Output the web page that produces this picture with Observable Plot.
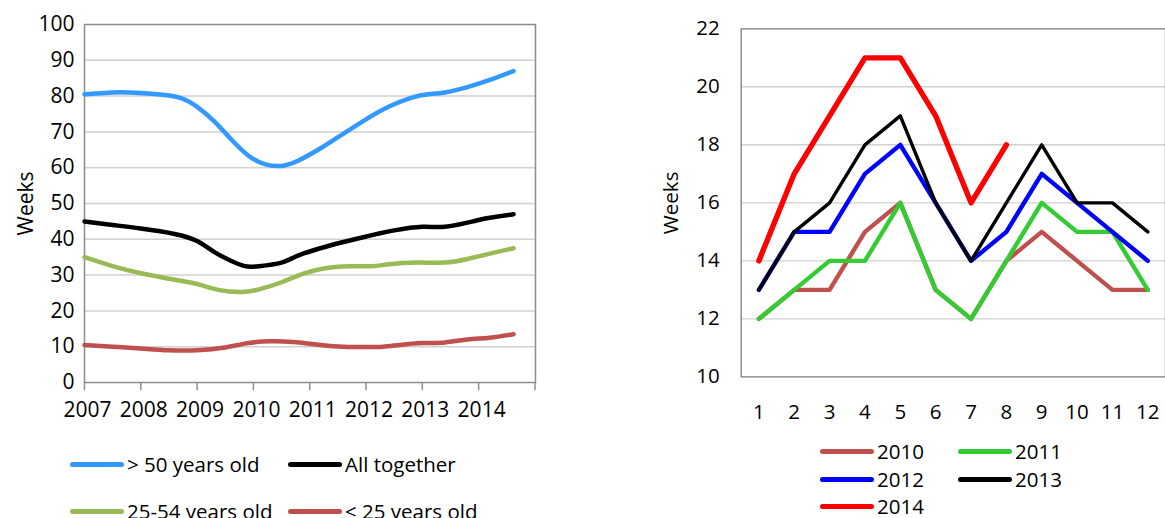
<!DOCTYPE html>
<html><head><meta charset="utf-8">
<script src="https://cdn.jsdelivr.net/npm/d3@7"></script>
<script src="https://cdn.jsdelivr.net/npm/@observablehq/plot@0.6"></script>
<style>
body{margin:0;width:1165px;height:518px;overflow:hidden;background:#fff;font-family:"Open Sans",sans-serif;position:relative}
.p{position:absolute;top:0}
.p svg text{font-size:21px;fill:#000}
.lg{position:absolute;font-size:20.5px;color:#000;display:flex;align-items:center;white-space:nowrap}
.lg span{display:inline-block;width:54px;height:5px;border-radius:3px;margin-right:3px}
</style></head><body>
<div id="left" class="p" style="left:0"></div>
<div id="right" class="p" style="left:640px"></div>
<script>
const years = [2007,2008,2009,2010,2011,2012,2013,2014];
const over50 = [[2007,80.5],[2007.5,81],[2007.8,81],[2008.3,80.5],[2008.7,79.5],[2009,77],[2009.3,73],[2009.6,68],[2009.9,63.5],[2010.2,61],[2010.5,60.5],[2010.8,62],[2011.2,65.5],[2011.6,69.5],[2012,73.5],[2012.4,77],[2012.8,79.5],[2013.1,80.5],[2013.4,81],[2013.8,82.5],[2014.2,84.5],[2014.62,87]];
const allTogether = [[2007,45],[2007.5,44],[2008,43],[2008.6,41.5],[2009,39.5],[2009.3,36.5],[2009.6,34],[2009.85,32.5],[2010.1,32.5],[2010.5,33.5],[2010.8,35.5],[2011.3,38],[2011.8,40],[2012.2,41.5],[2012.5,42.5],[2013,43.5],[2013.4,43.5],[2013.9,45],[2014.2,46],[2014.62,47]];
const age2554 = [[2007,35],[2007.5,32.5],[2008,30.5],[2008.5,29],[2009,27.5],[2009.4,25.8],[2009.8,25.3],[2010.1,26],[2010.5,28],[2010.9,30.5],[2011.3,32],[2011.7,32.5],[2012.1,32.5],[2012.4,33],[2012.9,33.5],[2013.4,33.5],[2013.8,34.5],[2014.2,36],[2014.62,37.5]];
const under25 = [[2007,10.5],[2007.5,10],[2008,9.5],[2008.5,9],[2009,9],[2009.5,9.8],[2009.9,11],[2010.3,11.5],[2010.7,11.3],[2011.2,10.5],[2011.6,10],[2012,9.9],[2012.3,10],[2012.6,10.5],[2013,11],[2013.4,11.2],[2013.8,12],[2014.2,12.5],[2014.62,13.5]];
const months = [1,2,3,4,5,6,7,8,9,10,11,12];
const y2010 = [12,13,13,15,16,13,12,14,15,14,13,13];
const y2011 = [12,13,14,14,16,13,12,14,16,15,15,13];
const y2012 = [13,15,15,17,18,16,14,15,17,16,15,14];
const y2013 = [13,15,16,18,19,16,14,16,18,16,16,15];
const y2014 = [14,17,19,21,21,19,16,18];

const grid = "#d0d0d0", frame = "#8c8c8c";
const leftSeries = [[over50,"#3399ff"],[allTogether,"#000000"],[age2554,"#99bb55"],[under25,"#c0504d"]];
const left = Plot.plot({
  width:560, height:420, marginLeft:84, marginRight:25, marginTop:24, marginBottom:38,
  style:{fontFamily:"Open Sans", fontSize:"21px", color:"#000", overflow:"visible"},
  x:{domain:[2007,2015.01], ticks:years, tickFormat:d=>String(d), tickSize:0, tickPadding:20, label:null},
  y:{domain:[0,100], ticks:d3.range(0,101,10), label:"Weeks", labelAnchor:"center", labelArrow:"none", tickSize:0, tickPadding:10, labelOffset:66},
  marks:[
    Plot.gridY(d3.range(10,100,10),{stroke:grid, strokeOpacity:1, strokeWidth:1.5}),
    Plot.frame({stroke:frame, strokeWidth:1.5}),
    Plot.ruleX(d3.range(2007,2016),{y1:0,y2:-2.3,stroke:frame,strokeWidth:1.5,clip:false}),
    ...leftSeries.map(([d,c])=>Plot.line(d,{x:d=>d[0],y:d=>d[1],stroke:c,strokeWidth:4.5,curve:"natural"}))
  ]
});
left.querySelectorAll('[aria-label="x-axis tick label"] text').forEach(t=>t.setAttribute("dx","3"));
document.getElementById("left").append(left);

const mk = (arr)=>arr.map((v,i)=>({m:months[i],v}));
const rightSeries = [[y2010,"#c0504d",4.5],[y2011,"#33cc33",4.5],[y2012,"#0000ff",4.5],[y2013,"#000000",3.5],[y2014,"#ff0000",5.5]];
const right = Plot.plot({
  width:537, height:420, marginLeft:103, marginRight:0, marginTop:29, marginBottom:35,
  style:{fontFamily:"Open Sans", fontSize:"21px", color:"#000", overflow:"visible"},
  x:{domain:[0.5,12.5], ticks:months, tickSize:0, tickPadding:28, label:null},
  y:{domain:[10,22], ticks:[10,12,14,16,18,20,22], label:"Weeks", labelAnchor:"center", labelArrow:"none", tickSize:0, tickPadding:22, labelOffset:80},
  marks:[
    Plot.gridY([12,14,16,18,20],{stroke:grid, strokeOpacity:1, strokeWidth:1.5}),
    Plot.frame({stroke:frame, strokeWidth:1.5}),
    ...rightSeries.map(([a,c,w])=>Plot.line(mk(a),{x:"m",y:"v",stroke:c,strokeWidth:w}))
  ]
});
document.getElementById("right").append(right);

const legends = [
  ["> 50 years old","#3399ff",70,465],["All together","#000",288,465],
  ["25-54 years old","#99bb55",70,512],["< 25 years old","#c0504d",288,512],
  ["2010","#c0504d",820,452],["2011","#33cc33",958,452],
  ["2012","#0000ff",820,480],["2013","#000",958,480],["2014","#ff0000",820,507]
];
for(const [t,c,x,y] of legends){
  const d=document.createElement("div"); d.className="lg";
  d.style.left=x+"px"; d.style.top=(y-15)+"px";
  d.innerHTML=`<span style="background:${c}"></span>${t.replace(/</g,"&lt;").replace(/>/g,"&gt;")}`;
  document.body.append(d);
}
</script></body></html>
